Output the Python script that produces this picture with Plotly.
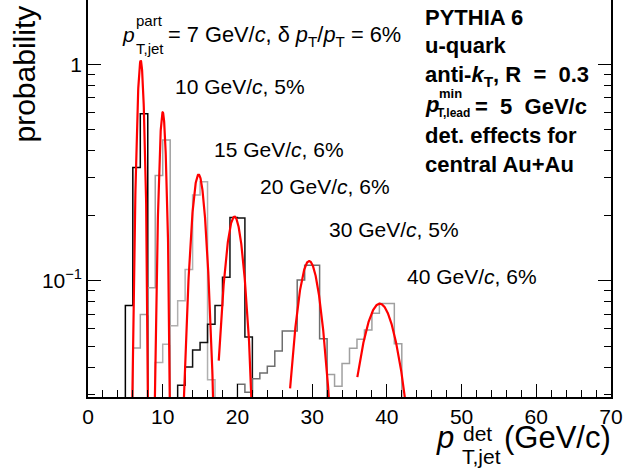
import numpy as np
import plotly.graph_objects as go

# ---------------- data ----------------
bin_width = 1.0
# detector-level pT distributions, one per particle-level jet pT
h7_lo = 5
h7_val = [0.077, 0.334, 0.591]
h10_lo = 6
h10_val = [0.049, 0.070, 0.093, 0.307, 0.447]
h15_lo = 9
h15_val = [0.042, 0.051, 0.062, 0.081, 0.113, 0.249, 0.287, 0.035]
h20_lo = 12
h20_val = [0.033, 0.040, 0.048, 0.052, 0.063, 0.077, 0.104, 0.196, 0.195, 0.055]
h30_lo = 20
h30_val = [0.0333, 0.0306, 0.0353, 0.0376, 0.0404, 0.0475, 0.0587, 0.0587, 0.101, 0.118, 0.118, 0.054]
h40_lo = 32
h40_val = [0.037, 0.0326, 0.0415, 0.0488, 0.0537, 0.0593, 0.0708, 0.0786, 0.0786, 0.0513]
hist_colors = ["#000000", "#a0a0a0", "#b0b0b0", "#111111", "#6e6e6e", "#a0a0a0"]

# Gaussian fits (red)
fit_amp = [1.04, 0.60, 0.31, 0.198, 0.1235, 0.0785]
fit_mean = [7.05, 10.0, 14.8, 19.6, 29.6, 39.05]
fit_sigma = [0.42, 0.43, 0.9, 1.2, 1.55, 2.4]
fit_lo = [5.0, 8.0, 12.0, 17.5, 27.05, 36.05]
fit_hi = [9.5, 12.0, 18.0, 23.5, 33.5, 44.0]

x_ticks = [0, 10, 20, 30, 40, 50, 60, 70]
y_ticks = [0.1, 1]
y_ticktext = ["10<sup>\u22121</sup>", "1"]
y_minor = [0.03, 0.04, 0.05, 0.06, 0.07, 0.08, 0.09, 0.2, 0.3, 0.4, 0.5, 0.6, 0.7, 0.8, 0.9]

W, H = 626, 469
L, R, B, T = 88, 611, 397, 0
FONT = "Liberation Sans, Arial, Helvetica, sans-serif"
NB = "\u00a0"

fig = go.Figure()

hists = [(h7_lo, h7_val), (h10_lo, h10_val), (h15_lo, h15_val),
         (h20_lo, h20_val), (h30_lo, h30_val), (h40_lo, h40_val)]
for (lo, vals), col in zip(hists, hist_colors):
    edges = [lo + i * bin_width for i in range(len(vals) + 1)]
    xs = [edges[0]] + edges[:-1] + [edges[-1], edges[-1]]
    ys = [1e-4] + list(vals) + [vals[-1], 1e-4]
    fig.add_trace(go.Scatter(x=xs, y=ys, mode="lines", line=dict(color=col, width=1.5, shape="hv"),
                             hoverinfo="skip", showlegend=False))

for a, m, s, lo, hi in zip(fit_amp, fit_mean, fit_sigma, fit_lo, fit_hi):
    xx = np.linspace(lo, hi, 300)
    yy = a * np.exp(-0.5 * ((xx - m) / s) ** 2)
    fig.add_trace(go.Scatter(x=xx, y=yy, mode="lines", line=dict(color="#ff0000", width=2.2),
                             hoverinfo="skip", showlegend=False))


def px(x):
    return (x - L) / (R - L)


def py(y):
    return (B - y) / (B - T)


ann = []


def text(s, x, y, size=21, xa="left", ya="middle", angle=0):
    ann.append(dict(text=s, x=px(x), y=py(y), xref="paper", yref="paper", xanchor=xa, yanchor=ya,
                    showarrow=False, textangle=angle, font=dict(family=FONT, size=size, color="black")))


# top-left label
text("<i>p</i>", 120, 34)
text("part", 134, 21, size=15)
text("T,jet", 134, 48, size=15)
text("= 7 GeV/<i>c</i>, \u03b4 <i>p</i><sub>T</sub>/<i>p</i><sub>T</sub> = 6%", 166, 36, size=21.8)
text("10 GeV/<i>c</i>, 5%", 173, 87)
text("15 GeV/<i>c</i>, 6%", 212, 149)
text("20 GeV/<i>c</i>, 6%", 258, 186)
text("30 GeV/<i>c</i>, 5%", 327, 229)
text("40 GeV/<i>c</i>, 6%", 405, 276)

# right block (bold)
BS = 22
text("<b>anti-<i>k</i><sub>T</sub>,%sR%s=%s0.3</b>" % (NB, NB * 2, NB * 2), 423, 76, size=BS)
text("<b>PYTHIA 6</b>", 423, 17, size=BS)
text("<b>u-quark</b>", 423, 45, size=BS)
text("<b><i>p</i></b>", 423, 104, size=BS)
text("<b>min</b>", 437, 93, size=13)
text("<b>T,lead</b>", 435, 113, size=12)
text("<b>=%s5%sGeV/c</b>" % (NB * 2, NB * 2), 473, 106, size=BS)
text("<b>det. effects for</b>", 423, 135, size=BS)
text("<b>central Au+Au</b>", 423, 164, size=BS)

# axis titles
text("probability", 24, 145, size=30, xa="center", ya="bottom", angle=-90)
text("<i>p</i>", 434, 438, size=31)
text("det", 461, 433, size=21)
text("T,jet", 460, 456, size=21)
text("(GeV/c)", 613, 437, size=31, xa="right")

fig.update_layout(
    width=W, height=H,
    margin=dict(l=L, r=W - R, t=T, b=H - B),
    plot_bgcolor="white", paper_bgcolor="white",
    annotations=ann,
    xaxis=dict(range=[0, 70], tickmode="array", tickvals=x_ticks, ticks="inside", ticklen=13,
               tickwidth=1, tickcolor="black", showline=True, linecolor="black", linewidth=1.5,
               showgrid=False, zeroline=False, mirror=False,
               tickfont=dict(family=FONT, size=21, color="black"),
               minor=dict(dtick=2, tick0=0, ticks="inside", ticklen=7, tickcolor="black", tickwidth=1,
                          showgrid=False)),
    yaxis=dict(type="log", range=[np.log10(0.0291), 0.297], tickmode="array", tickvals=y_ticks,
               ticktext=y_ticktext, ticks="inside", ticklen=13, tickwidth=1, tickcolor="black",
               showline=True, linecolor="black", linewidth=1.5, mirror="ticks",
               showgrid=False, zeroline=False,
               tickfont=dict(family=FONT, size=21, color="black"),
               minor=dict(tickmode="array", tickvals=y_minor, ticks="inside", ticklen=7,
                          tickcolor="black", tickwidth=1, showgrid=False)),
)

fig.write_html("out.html", config={"displayModeBar": False},
               post_script="document.body.style.margin='0px';")
